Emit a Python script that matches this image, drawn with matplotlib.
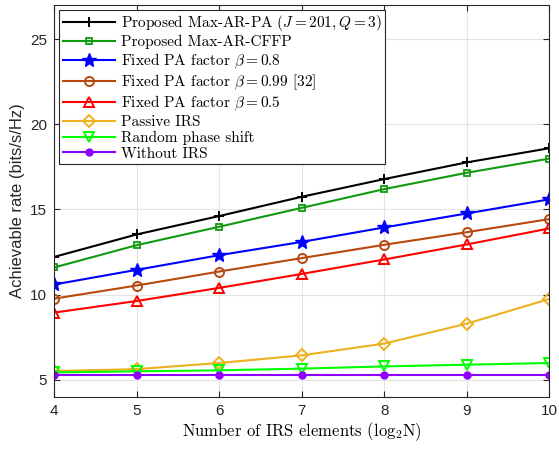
import numpy as np
import matplotlib
matplotlib.use('Agg')
import matplotlib.pyplot as plt

plt.rcParams['mathtext.fontset'] = 'cm'

# data
n_log2 = [4, 5, 6, 7, 8, 9, 10]
max_ar_pa = [12.21, 13.53, 14.61, 15.74, 16.78, 17.76, 18.59]
max_ar_cffp = [11.59, 12.90, 13.98, 15.09, 16.19, 17.15, 17.98]
fixed_08 = [10.59, 11.45, 12.31, 13.09, 13.94, 14.76, 15.59]
fixed_099 = [9.76, 10.53, 11.35, 12.14, 12.92, 13.66, 14.43]
fixed_05 = [8.94, 9.62, 10.39, 11.21, 12.06, 12.94, 13.88]
passive = [5.51, 5.62, 5.98, 6.43, 7.12, 8.29, 9.74]
random_phase = [5.43, 5.49, 5.55, 5.65, 5.78, 5.88, 5.98]
no_irs = [5.29, 5.29, 5.29, 5.29, 5.29, 5.29, 5.29]

labels = [r'Proposed Max-AR-PA ($J=201, Q=3$)',
          'Proposed Max-AR-CFFP',
          r'Fixed PA factor $\beta=0.8$',
          r'Fixed PA factor $\beta=0.99$ [32]',
          r'Fixed PA factor $\beta=0.5$',
          'Passive IRS',
          'Random phase shift',
          'Without IRS']

fig = plt.figure(figsize=(5.59, 4.5), dpi=100)
ax = fig.add_axes([0.0971, 0.1184, 0.8856, 0.8705])

lw = 1.5
ax.plot(n_log2, max_ar_pa, color='black', marker='+', ms=7, mew=1.4, lw=lw, label=labels[0])
ax.plot(n_log2, max_ar_cffp, color='#119a11', marker='s', ms=5, mfc='none', mew=1.3, lw=lw, label=labels[1])
ax.plot(n_log2, fixed_08, color='blue', marker='*', ms=10, lw=lw, label=labels[2])
ax.plot(n_log2, fixed_099, color='#b8480e', marker='o', ms=6.5, mfc='none', mew=1.4, lw=lw, label=labels[3])
ax.plot(n_log2, fixed_05, color='red', marker='^', ms=6.5, mfc='none', mew=1.4, lw=lw, label=labels[4])
ax.plot(n_log2, passive, color='#edb120', marker='D', ms=6, mfc='none', mew=1.4, lw=lw, label=labels[5])
ax.plot(n_log2, random_phase, color='#00ff00', marker='v', ms=6.5, mfc='none', mew=1.4, lw=lw, label=labels[6])
ax.plot(n_log2, no_irs, color='#8f00ff', marker='o', ms=5, lw=lw, label=labels[7])

ax.set_xlim(4, 10)
ax.set_ylim(4, 27)
ax.set_xticks(n_log2)
ax.set_yticks([5, 10, 15, 20, 25])
ax.grid(True, color='#e3e3e3', lw=0.8)
ax.set_axisbelow(True)
ax.tick_params(direction='in', top=True, right=True, labelsize=11, colors='#262626', length=4, pad=5)
for lab in ax.get_xticklabels() + ax.get_yticklabels():
    lab.set_fontfamily('Liberation Sans')
for s in ax.spines.values():
    s.set_color('#262626')
    s.set_linewidth(0.8)

ax.set_xlabel(r'Number of IRS elements (log$_2$N)', fontsize=12, fontfamily='cmr10', labelpad=2)
ax.set_ylabel('Achievable rate (bits/s/Hz)', fontsize=12, fontfamily='Liberation Sans', color='#262626')

leg = ax.legend(loc='upper left', prop={'family': 'cmr10', 'size': 11}, fancybox=False,
                edgecolor='#262626', framealpha=1, handlelength=3.4, labelspacing=0.12,
                borderaxespad=0.3, borderpad=0.25, handletextpad=0.4)
leg.get_frame().set_linewidth(0.8)

fig.savefig('out.png', dpi=100)
